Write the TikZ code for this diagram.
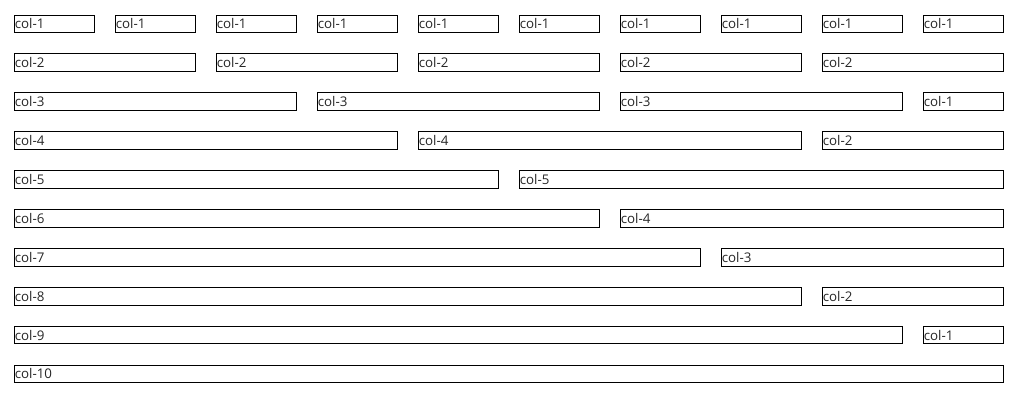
\documentclass[tikz,border=0pt]{standalone}
\usepackage{fontspec}
\setmainfont{Open Sans}
\usetikzlibrary{positioning}

\begin{document}
\begin{tikzpicture}[
        x=0.75pt, y=-0.75pt,
        node distance=15.375pt,
        cell/.style={rectangle, draw=black, line width=0.75pt, outer sep=0pt, inner xsep=0.6pt, inner ysep=0pt, minimum height=13.3pt, text width={75.75pt*#1-15.375pt-1.2pt}, align=left, font=\fontsize{10}{11}\selectfont, text=black!85, anchor=north west}
    ]
    \useasboundingbox (0,0) rectangle (1021,407);

    % Row 1: ten single columns
    \node[cell=1] (a1) at (14,15) {col-1};
    \node[cell=1, right=of a1] (a2) {col-1};
    \node[cell=1, right=of a2] (a3) {col-1};
    \node[cell=1, right=of a3] (a4) {col-1};
    \node[cell=1, right=of a4] (a5) {col-1};
    \node[cell=1, right=of a5] (a6) {col-1};
    \node[cell=1, right=of a6] (a7) {col-1};
    \node[cell=1, right=of a7] (a8) {col-1};
    \node[cell=1, right=of a8] (a9) {col-1};
    \node[cell=1, right=of a9] (a10) {col-1};

    % Row 2
    \node[cell=2] (b1) at (14,53.9) {col-2};
    \node[cell=2, right=of b1] (b2) {col-2};
    \node[cell=2, right=of b2] (b3) {col-2};
    \node[cell=2, right=of b3] (b4) {col-2};
    \node[cell=2, right=of b4] (b5) {col-2};

    % Row 3
    \node[cell=3] (c1) at (14,92.8) {col-3};
    \node[cell=3, right=of c1] (c2) {col-3};
    \node[cell=3, right=of c2] (c3) {col-3};
    \node[cell=1, right=of c3] (c4) {col-1};

    % Row 4
    \node[cell=4] (d1) at (14,131.7) {col-4};
    \node[cell=4, right=of d1] (d2) {col-4};
    \node[cell=2, right=of d2] (d3) {col-2};

    % Row 5
    \node[cell=5] (e1) at (14,170.6) {col-5};
    \node[cell=5, right=of e1] (e2) {col-5};

    % Rows 6 to 9: wide cell plus remainder
    \node[cell=6] (f1) at (14,209.5) {col-6};
    \node[cell=4, right=of f1] (f2) {col-4};

    \node[cell=7] (g1) at (14,248.4) {col-7};
    \node[cell=3, right=of g1] (g2) {col-3};

    \node[cell=8] (h1) at (14,287.3) {col-8};
    \node[cell=2, right=of h1] (h2) {col-2};

    \node[cell=9] (i1) at (14,326.2) {col-9};
    \node[cell=1, right=of i1] (i2) {col-1};

    % Row 10: full width
    \node[cell=10] (j1) at (14,365.1) {col-10};

    \end{tikzpicture}
\end{document}
